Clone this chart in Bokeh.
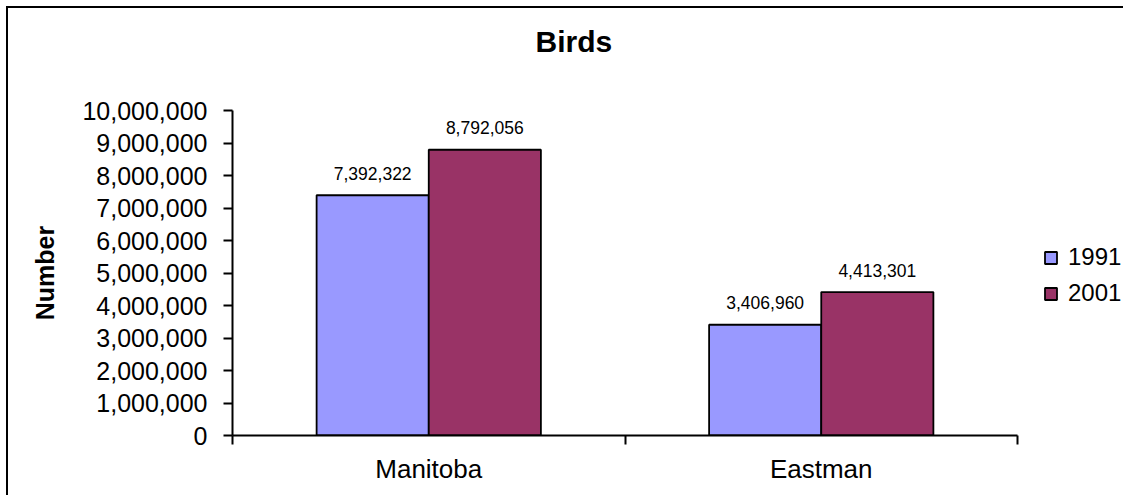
from bokeh.plotting import figure
from bokeh.models import (ColumnDataSource, FixedTicker, NumeralTickFormatter, LabelSet,
                          Legend, LegendItem, Range1d, Title)
from bokeh.core.properties import value
from bokeh.embed import file_html
from bokeh.resources import INLINE

# ---- data ----
categories = ["Manitoba", "Eastman"]
years = ["1991", "2001"]
values_1991 = [7392322, 3406960]
values_2001 = [8792056, 4413301]
y_ticks = [0, 1000000, 2000000, 3000000, 4000000, 5000000,
           6000000, 7000000, 8000000, 9000000, 10000000]
title_text = "Birds"
y_label = "Number"

colors = ["#9999FF", "#993366"]
FONT = "Liberation Sans"

n = len(categories)
bar_w = 1 / 3.5
centers = [i + 0.5 for i in range(n)]

src1 = ColumnDataSource(dict(x=[c - bar_w / 2 for c in centers], top=values_1991,
                             label=[f"{v:,}" for v in values_1991]))
src2 = ColumnDataSource(dict(x=[c + bar_w / 2 for c in centers], top=values_2001,
                             label=[f"{v:,}" for v in values_2001]))

# layout (pixels inside the figure)
W, H = 1117, 489
LEFT, TOP, BOTTOM = 224, 102, 62
AXIS_RIGHT = 1009          # where the category axis ends
x_end = n * (W - LEFT) / (AXIS_RIGHT - LEFT)   # frame runs to the right edge

p = figure(width=W, height=H, x_range=Range1d(0, x_end), y_range=Range1d(y_ticks[0], y_ticks[-1]),
           output_backend="svg", toolbar_location=None, title_location=None,
           min_border_left=LEFT, min_border_right=0, min_border_top=TOP, min_border_bottom=BOTTOM)
p.margin = (6, 0, 0, 6)
p.styles = {"border-left": "2px solid black", "border-top": "2px solid black"}
p.background_fill_color = "white"
p.border_fill_color = "white"
p.outline_line_color = None
p.xgrid.visible = False
p.ygrid.visible = False

r1 = p.vbar(x="x", top="top", bottom=0, width=bar_w, source=src1,
            fill_color=colors[0], line_color="black", line_width=1.8)
r2 = p.vbar(x="x", top="top", bottom=0, width=bar_w, source=src2,
            fill_color=colors[1], line_color="black", line_width=1.8)

for src in (src1, src2):
    p.add_layout(LabelSet(x="x", y="top", text="label", source=src, y_offset=22,
                          text_align="center", text_baseline="middle",
                          text_font=value(FONT), text_font_size="17.5px", text_color="black"))

# title: a spacer panel next to the frame, then the real title above it
p.add_layout(Title(text=" ", text_font_size="10px", standoff=40), "above")
p.add_layout(Title(text=title_text, align="left", offset=303, standoff=0,
                   text_font=FONT, text_font_size="30px", text_font_style="bold",
                   text_color="black"), "above")

# x axis
xa = p.xaxis[0]
xa.bounds = (0, n)
xa.ticker = FixedTicker(ticks=centers, minor_ticks=list(range(n + 1)))
xa.major_label_overrides = {c: cat for c, cat in zip(centers, categories)}
xa.major_tick_out = 0
xa.major_tick_in = 0
xa.minor_tick_out = 9
xa.minor_tick_in = 0
xa.minor_tick_line_width = 2
xa.minor_tick_line_color = "black"
xa.axis_line_width = 2
xa.axis_line_color = "black"
xa.major_label_text_font = FONT
xa.major_label_text_font_size = "26px"
xa.major_label_text_color = "black"
xa.major_label_standoff = 9

# y axis
ya = p.yaxis[0]
ya.ticker = FixedTicker(ticks=y_ticks, minor_ticks=[])
ya.formatter = NumeralTickFormatter(format="0,0")
ya.major_tick_out = 9
ya.major_tick_in = 0
ya.major_tick_line_width = 2
ya.major_tick_line_color = "black"
ya.minor_tick_out = 0
ya.minor_tick_in = 0
ya.axis_line_width = 2
ya.axis_line_color = "black"
ya.major_label_text_font = FONT
ya.major_label_text_font_size = "25px"
ya.major_label_text_color = "black"
ya.major_label_standoff = 16
ya.axis_label = y_label
ya.axis_label_text_font = FONT
ya.axis_label_text_font_size = "25px"
ya.axis_label_text_font_style = "bold"
ya.axis_label_text_color = "black"
ya.axis_label_standoff = 20

legend = Legend(items=[LegendItem(label=years[0], renderers=[r1]),
                       LegendItem(label=years[1], renderers=[r2])],
                location=(811, 128), orientation="vertical",
                glyph_width=15, glyph_height=15, label_height=28, label_standoff=10,
                spacing=8, padding=0, margin=0, border_line_color=None,
                background_fill_alpha=0, label_text_font=FONT,
                label_text_font_size="24px", label_text_color="black")
p.add_layout(legend)

open("out.html", "w").write(file_html(p, INLINE))
